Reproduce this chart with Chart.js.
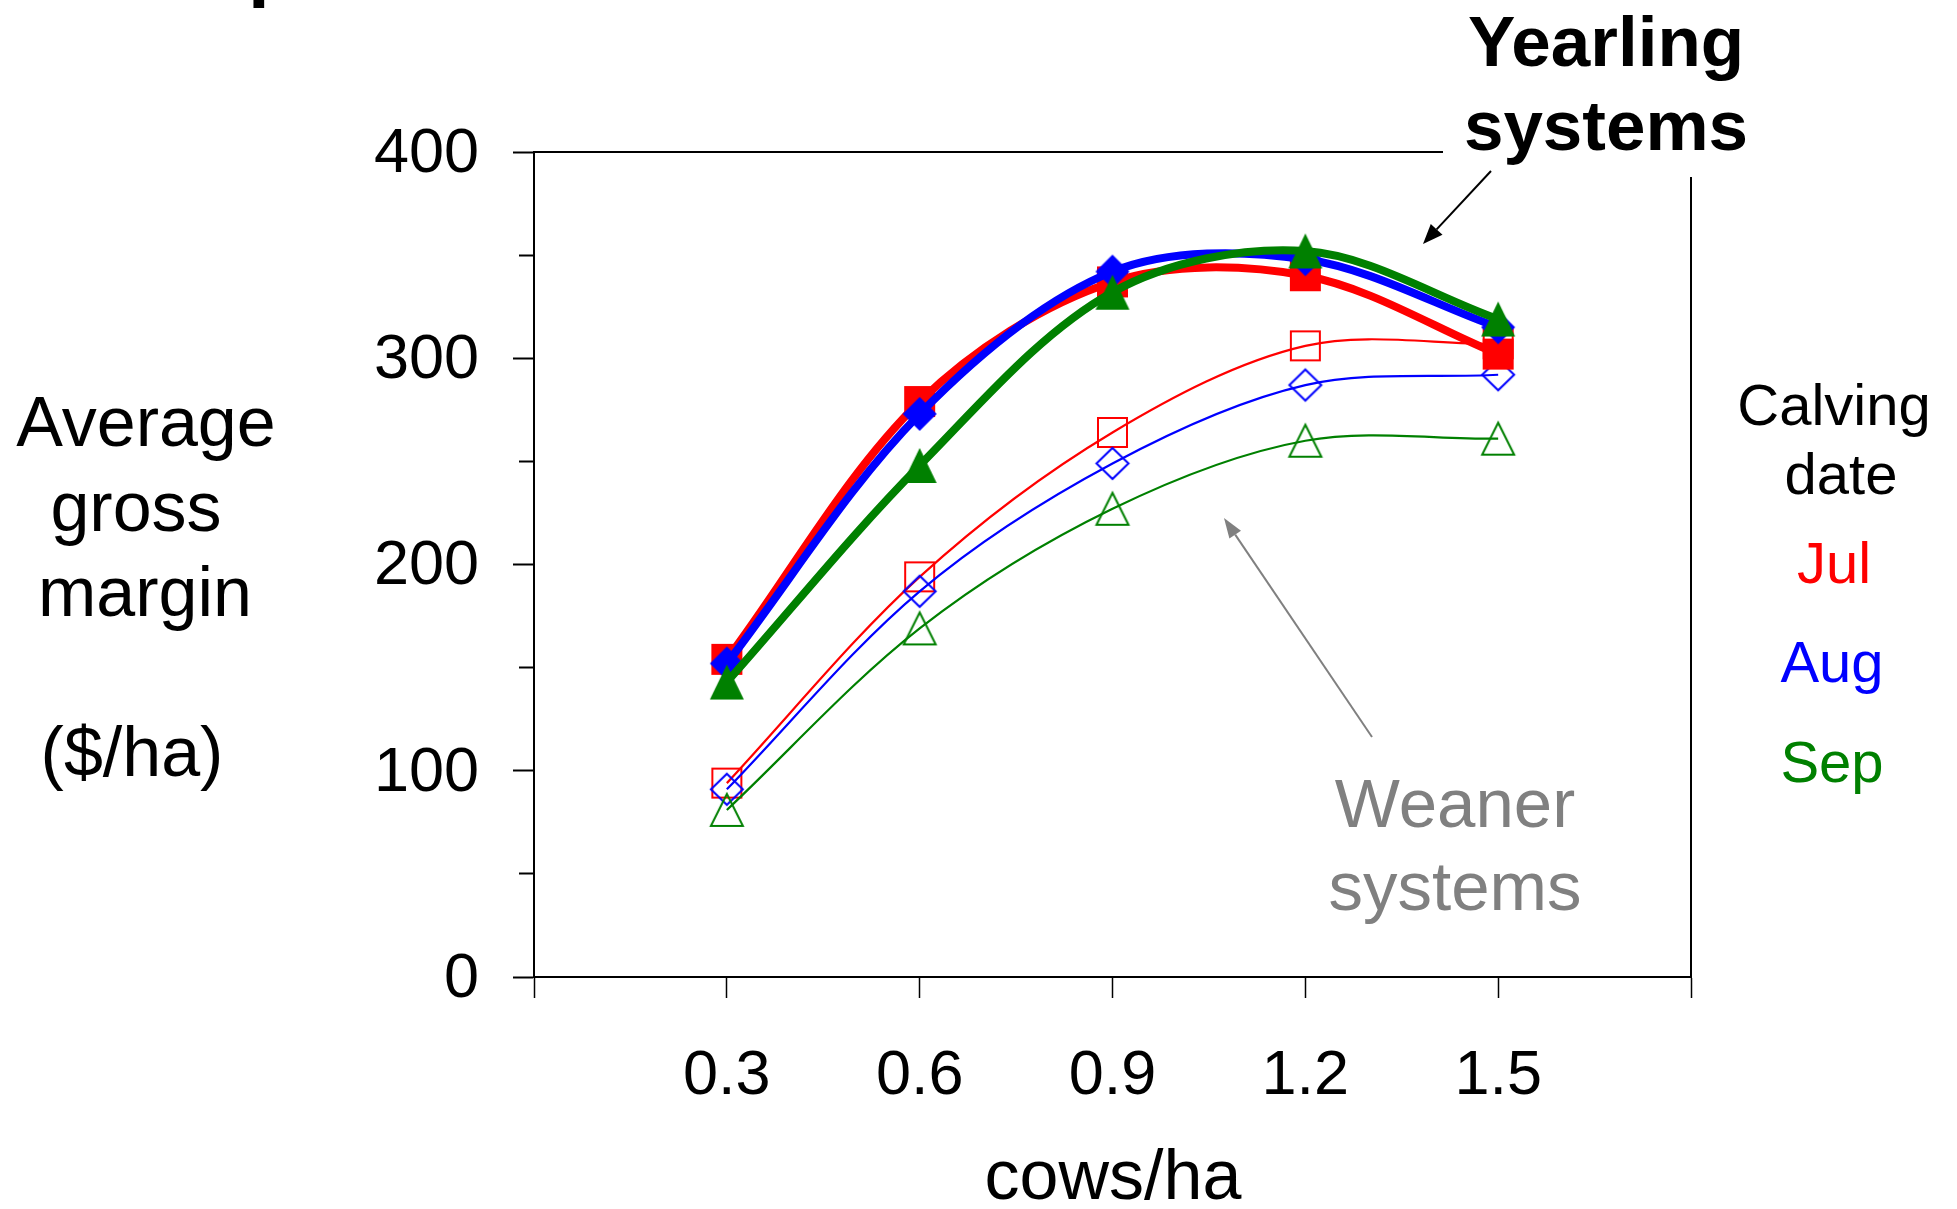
<!DOCTYPE html>
<html>
<head>
<meta charset="utf-8">
<script src="https://cdn.jsdelivr.net/npm/chart.js@4.4.1/dist/chart.umd.min.js"></script>
<style>
html,body{margin:0;padding:0;background:#ffffff;}
canvas{display:block;}
</style>
</head>
<body>
<canvas id="c" width="1957" height="1209" style="width:1957px;height:1209px"></canvas>
<script>
// ---------- data ----------
const cowsPerHa = [0.3, 0.6, 0.9, 1.2, 1.5];
const yearlingJul = [154, 279, 337, 340, 302];
const yearlingAug = [152, 273, 342, 348, 315];
const yearlingSep = [143, 248, 332, 352, 319];
const weanerJul = [94, 194, 264, 306, 307];
const weanerAug = [91, 187, 249, 287, 292];
const weanerSep = [81, 169, 227, 260, 261];
const xTickValues = [0, 0.3, 0.6, 0.9, 1.2, 1.5, 1.8];
const xTickLabels = ['', '0.3', '0.6', '0.9', '1.2', '1.5', ''];
const yTickValues = [0, 100, 200, 300, 400];
const yTickLabels = ['0', '100', '200', '300', '400'];
const yMinorTickValues = [50, 150, 250, 350];
const calvingDates = ['Jul', 'Aug', 'Sep'];

const RED = '#FF0000', BLUE = '#0000FF', GREEN = '#008000', GRAY = '#808080';
const FONT = '"Liberation Sans", Arial, Helvetica, sans-serif';

// ---------- marker images ----------
function marker(shape, color, filled, w, h) {
  const m = 4;
  const c = document.createElement('canvas');
  c.width = w + 2 * m; c.height = h + 2 * m;
  const g = c.getContext('2d');
  const lw = 2;
  const i = filled ? 0 : lw / 2;
  const x0 = m + i, y0 = m + i, x1 = m + w - i, y1 = m + h - i;
  const cx = (x0 + x1) / 2, cy = (y0 + y1) / 2;
  g.beginPath();
  if (shape === 'square') {
    g.rect(x0, y0, x1 - x0, y1 - y0);
  } else if (shape === 'diamond') {
    g.moveTo(cx, y0); g.lineTo(x1, cy); g.lineTo(cx, y1); g.lineTo(x0, cy); g.closePath();
  } else {
    g.moveTo(cx, y0); g.lineTo(x1, y1); g.lineTo(x0, y1); g.closePath();
  }
  if (filled) { g.fillStyle = color; g.fill(); }
  else { g.strokeStyle = color; g.lineWidth = lw; g.lineJoin = 'miter'; g.stroke(); }
  return c;
}

const pts = arr => cowsPerHa.map((x, i) => ({ x: x, y: arr[i] }));

function ds(label, arr, color, style, thick) {
  return {
    label: label,
    data: pts(arr),
    borderColor: color,
    backgroundColor: color,
    borderWidth: thick ? 8 : 2.2,
    tension: 0.33,
    pointStyle: style,
    pointRadius: 17,
    pointHoverRadius: 17,
    fill: false,
    clip: false
  };
}

// first dataset is drawn on top
const datasets = [
  ds('Yearling Sep', yearlingSep, GREEN, marker('triangle', GREEN, true, 34, 35), true),
  ds('Yearling Aug', yearlingAug, BLUE, marker('diamond', BLUE, true, 34, 34), true),
  ds('Yearling Jul', yearlingJul, RED, marker('square', RED, true, 31, 31), true),
  ds('Weaner Sep', weanerSep, GREEN, marker('triangle', GREEN, false, 34, 34), false),
  ds('Weaner Aug', weanerAug, BLUE, marker('diamond', BLUE, false, 34, 33), false),
  ds('Weaner Jul', weanerJul, RED, marker('square', RED, false, 31, 31), false)
];

// ---------- annotations ----------
function arrow(ctx, x1, y1, x2, y2, color, headLen, headHalf) {
  const a = Math.atan2(y2 - y1, x2 - x1);
  const bx = x2 - Math.cos(a) * headLen, by = y2 - Math.sin(a) * headLen;
  ctx.save();
  ctx.strokeStyle = color; ctx.fillStyle = color; ctx.lineWidth = 2;
  ctx.beginPath(); ctx.moveTo(x1, y1); ctx.lineTo(bx, by); ctx.stroke();
  ctx.beginPath();
  ctx.moveTo(x2, y2);
  ctx.lineTo(bx + Math.sin(a) * headHalf, by - Math.cos(a) * headHalf);
  ctx.lineTo(bx - Math.sin(a) * headHalf, by + Math.cos(a) * headHalf);
  ctx.closePath(); ctx.fill();
  ctx.restore();
}

const annotations = {
  id: 'annotations',
  afterDraw(chart) {
    const ctx = chart.ctx;
    const ca = chart.chartArea;
    ctx.save();
    // frame pieces (top and right), broken by the "Yearling systems" label
    ctx.strokeStyle = '#000'; ctx.lineWidth = 2;
    ctx.beginPath();
    ctx.moveTo(ca.left, ca.top); ctx.lineTo(1443, ca.top);
    ctx.moveTo(ca.right, 177); ctx.lineTo(ca.right, ca.bottom);
    ctx.stroke();

    ctx.textBaseline = 'alphabetic';
    // fragment of a title cut at the top edge
    ctx.fillStyle = '#000';
    ctx.textAlign = 'left';
    ctx.font = 'bold 78px ' + FONT;
    ctx.fillText('p', 248, -8);
    ctx.textAlign = 'center';

    // y-axis title
    ctx.font = '70px ' + FONT;
    ctx.fillText('Average', 146, 446);
    ctx.fillText('gross', 136, 531);
    ctx.fillText('margin', 145, 616);
    ctx.fillText('($/ha)', 132, 776);

    // x-axis title
    ctx.fillText('cows/ha', 1113, 1199);

    // Yearling systems
    ctx.font = 'bold 71px ' + FONT;
    ctx.fillText('Yearling', 1606, 66);
    ctx.fillText('systems', 1606, 150);

    // Weaner systems
    ctx.fillStyle = GRAY;
    ctx.font = '69px ' + FONT;
    ctx.fillText('Weaner', 1455, 827);
    ctx.fillText('systems', 1455, 910);

    // legend text
    ctx.fillStyle = '#000';
    ctx.font = '58px ' + FONT;
    ctx.fillText('Calving', 1834, 425);
    ctx.fillText('date', 1841, 494);
    const legendColors = [RED, BLUE, GREEN];
    const legendX = [1834, 1832, 1832];
    const legendY = [583, 682, 782];
    calvingDates.forEach((t, i) => {
      ctx.fillStyle = legendColors[i];
      ctx.fillText(t, legendX[i], legendY[i]);
    });
    ctx.restore();

    arrow(ctx, 1491, 171, 1423, 244, '#000', 20, 8);
    arrow(ctx, 1372, 737, 1224, 518, GRAY, 20, 7);
  }
};

new Chart(document.getElementById('c'), {
  type: 'line',
  data: { datasets: datasets },
  options: {
    responsive: false,
    animation: false,
    devicePixelRatio: 1,
    events: [],
    layout: { padding: { top: 152, right: 266, left: 0, bottom: 0 } },
    plugins: { legend: { display: false }, tooltip: { enabled: false }, title: { display: false } },
    scales: {
      x: {
        type: 'linear',
        min: 0, max: 1.8,
        afterBuildTicks: s => { s.ticks = xTickValues.map(v => ({ value: v })); },
        afterFit: s => { s.height = 232; },
        ticks: {
          autoSkip: false, maxRotation: 0, minRotation: 0,
          padding: 41,
          color: '#000',
          font: { family: FONT, size: 63 },
          callback: (v, i) => xTickLabels[i]
        },
        grid: { display: true, drawOnChartArea: false, drawTicks: true, tickLength: 21, tickColor: '#000', tickWidth: 1.5, color: '#000' },
        border: { display: true, color: '#000', width: 2 }
      },
      y: {
        type: 'linear',
        position: 'left',
        weight: 1,
        min: 0, max: 400,
        afterBuildTicks: s => { s.ticks = yTickValues.map(v => ({ value: v })); },
        afterFit: s => { s.width = 534; },
        ticks: {
          padding: 34,
          labelOffset: 2.5,
          color: '#000',
          font: { family: FONT, size: 63 },
          callback: (v, i) => yTickLabels[i]
        },
        grid: { display: true, drawOnChartArea: false, drawTicks: true, tickLength: 21, tickColor: '#000', tickWidth: 2, color: '#000' },
        border: { display: true, color: '#000', width: 2 }
      },
      yMinor: {
        type: 'linear',
        position: 'left',
        weight: 0,
        min: 0, max: 400,
        afterBuildTicks: s => { s.ticks = yMinorTickValues.map(v => ({ value: v })); },
        afterFit: s => { s.width = 0; },
        ticks: { display: false },
        grid: { display: true, drawOnChartArea: false, drawTicks: true, tickLength: 15, tickColor: '#000', tickWidth: 2, color: '#000' },
        border: { display: false }
      }
    }
  },
  plugins: [annotations]
});
</script>
</body>
</html>
